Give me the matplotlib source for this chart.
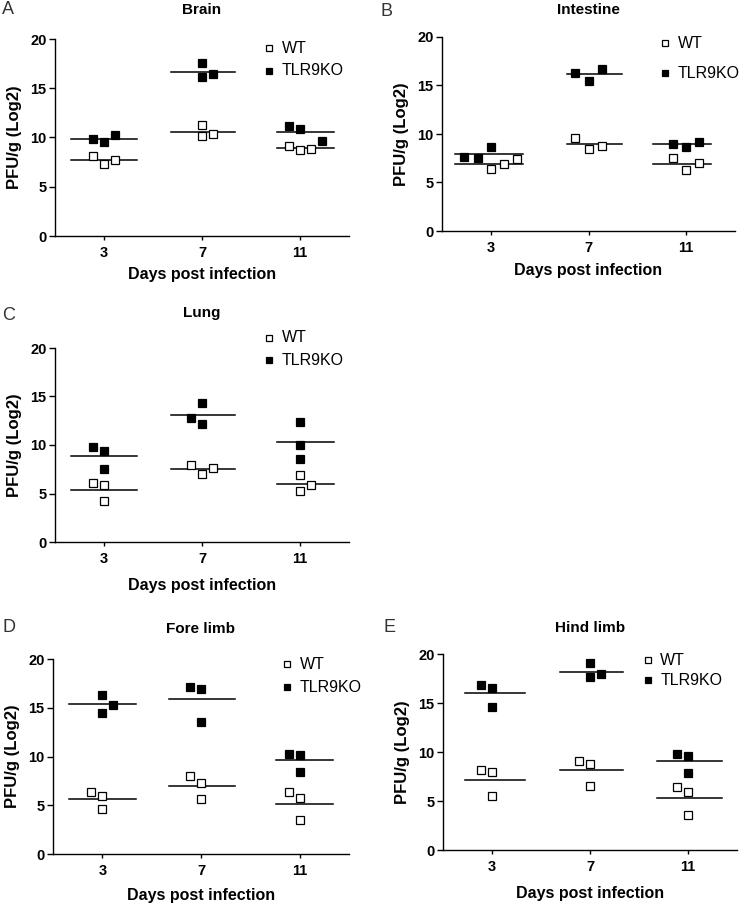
import matplotlib
matplotlib.use("Agg")
import matplotlib.pyplot as plt
import numpy as np

plt.rcParams['font.family'] = ['Liberation Sans', 'DejaVu Sans']

days = [3, 7, 11]
titles = ['Brain', 'Intestine', 'Lung', 'Fore limb', 'Hind limb']
letters = ['A', 'B', 'C', 'D', 'E']

# PFU/g (Log2), one inner list per day (3, 7, 11)
brain_wt = [[8.16, 7.34, 7.72], [11.24, 10.12, 10.36], [9.10, 8.76, 8.87]]
brain_ko = [[9.85, 9.51, 10.22], [17.56, 16.11, 16.41], [11.13, 10.86, 9.64]]
intestine_wt = [[6.44, 6.88, 7.44], [9.57, 8.47, 8.78], [7.57, 6.30, 6.99]]
intestine_ko = [[7.68, 7.54, 8.67], [16.28, 15.42, 16.73], [8.95, 8.64, 9.19]]
lung_wt = [[6.10, 5.89, 4.18], [7.98, 6.99, 7.67], [6.92, 5.27, 5.86]]
lung_ko = [[9.83, 9.42, 7.50], [12.81, 12.12, 14.35], [12.33, 10.00, 8.56]]
forelimb_wt = [[6.31, 5.94, 4.57], [7.95, 7.30, 5.67], [6.31, 5.70, 3.45]]
forelimb_ko = [[16.31, 15.26, 14.44], [17.10, 16.90, 13.55], [10.24, 10.14, 8.43]]
hindlimb_wt = [[8.13, 7.93, 5.48], [9.05, 8.81, 6.53], [6.46, 5.92, 3.54]]
hindlimb_ko = [[16.84, 16.56, 14.59], [19.05, 17.62, 17.96], [9.76, 9.63, 7.86]]

wt_data = [brain_wt, intestine_wt, lung_wt, forelimb_wt, hindlimb_wt]
ko_data = [brain_ko, intestine_ko, lung_ko, forelimb_ko, hindlimb_ko]

# ---- layout (pixel-measured) ----
W, H = 750, 905
# left, right, top, bottom in px
boxes = [(55, 349, 39, 236), (442, 735, 37, 231), (55, 349, 348, 542),
         (53, 349, 659, 854), (443, 737, 654, 850)]
title_y = [10, 10, 313, 629, 628]
letter_xy = [(2, 10), (381, 12), (2, 315), (2, 628), (383, 628)]
xlabel_y = [275, 271, 585, 895, 893]
# legend: marker x, WT y, KO y (axes fraction)
legend_pos = [(0.728, 0.954, 0.838), (0.761, 0.969, 0.814), (0.728, 1.052, 0.938),
              (0.791, 0.974, 0.856), (0.697, 0.969, 0.867)]
# horizontal jitter steps of each point
step = [0.112, 0.135, 0.112, 0.112, 0.112]
wt_jit = [[[-1, 0, 1], [0, 0, 1], [-1, 0, 1]],
          [[0, 1, 2], [-1, 0, 1], [-1, 0, 1]],
          [[-1, 0, 0], [-1, 0, 1], [0, 0, 1]],
          [[-1, 0, 0], [-1, 0, 0], [-1, 0, 0]],
          [[-1, 0, 0], [-1, 0, 0], [-1, 0, 0]]]
ko_jit = [[[-1, 0, 1], [0, 0, 1], [-1, 0, 2]],
          [[-2, -1, 0], [-1, 0, 1], [-1, 0, 1]],
          [[-1, 0, 0], [-1, 0, 0], [0, 0, 0]],
          [[0, 1, 0], [-1, 0, 0], [-1, 0, 0]],
          [[-1, 0, 0], [0, 0, 1], [-1, 0, 0]]]
# mean line extent per day
spans = [[(-0.34, 0.34), (-0.32, 0.34), (-0.23, 0.35)],
         [(-0.37, 0.33), (-0.22, 0.34), (-0.34, 0.25)],
         [(-0.34, 0.34), (-0.32, 0.34), (-0.23, 0.35)],
         [(-0.34, 0.34), (-0.32, 0.34), (-0.24, 0.34)],
         [(-0.28, 0.34), (-0.31, 0.34), (-0.32, 0.35)]]

fig = plt.figure(figsize=(W / 100, H / 100), dpi=100)

for k in range(5):
    l, r, t, b = boxes[k]
    ax = fig.add_axes([l / W, 1 - b / H, (r - l) / W, (b - t) / H])
    for data, jit, face in [(wt_data[k], wt_jit[k], 'white'), (ko_data[k], ko_jit[k], 'black')]:
        for i, vals in enumerate(data):
            xs = [i + j * step[k] for j in jit[i]]
            ax.plot(xs, vals, 's', ms=5.5, mfc=face, mec='black', mew=0.9,
                    linestyle='none', clip_on=False, zorder=3)
            lo, hi = spans[k][i]
            m = np.mean(vals)
            ax.plot([i + lo, i + hi], [m, m], color='black', lw=1.1, zorder=2)

    ax.set_xlim(-0.5, 2.5)
    ax.set_ylim(0, 20)
    ax.set_xticks(range(len(days)))
    ax.set_xticklabels([str(d) for d in days])
    ax.set_yticks([0, 5, 10, 15, 20])
    for s in ['top', 'right']:
        ax.spines[s].set_visible(False)
    for s in ['left', 'bottom']:
        ax.spines[s].set_linewidth(1.0)
    ax.tick_params(axis='y', length=4, width=1.0, labelsize=10.5, pad=2)
    ax.tick_params(axis='x', length=3, width=1.0, labelsize=10.5, pad=4)
    for lab in ax.get_xticklabels() + ax.get_yticklabels():
        lab.set_fontweight('bold')
    ax.set_ylabel('PFU/g (Log2)', fontsize=12, fontweight='bold', labelpad=6)

    cx = (l + r) / 2 / W
    fig.text(cx, 1 - title_y[k] / H, titles[k], ha='center', va='center',
             fontsize=11, fontweight='bold')
    fig.text(cx, 1 - xlabel_y[k] / H, 'Days post infection', ha='center', va='center',
             fontsize=11.5, fontweight='bold')
    lx, ly = letter_xy[k]
    fig.text(lx / W, 1 - ly / H, letters[k], ha='left', va='center',
             fontsize=13, color='#333333')

    mx, wy, ky = legend_pos[k]
    for y, face, name in [(wy, 'white', 'WT'), (ky, 'black', 'TLR9KO')]:
        ax.plot([mx], [y], 's', ms=5, mfc=face, mec='black', mew=0.9,
                transform=ax.transAxes, clip_on=False)
        ax.annotate(name, (mx, y), xycoords='axes fraction', xytext=(9, 0),
                    textcoords='offset points', va='center', ha='left', fontsize=11.5)

fig.savefig('out.png', dpi=100)
